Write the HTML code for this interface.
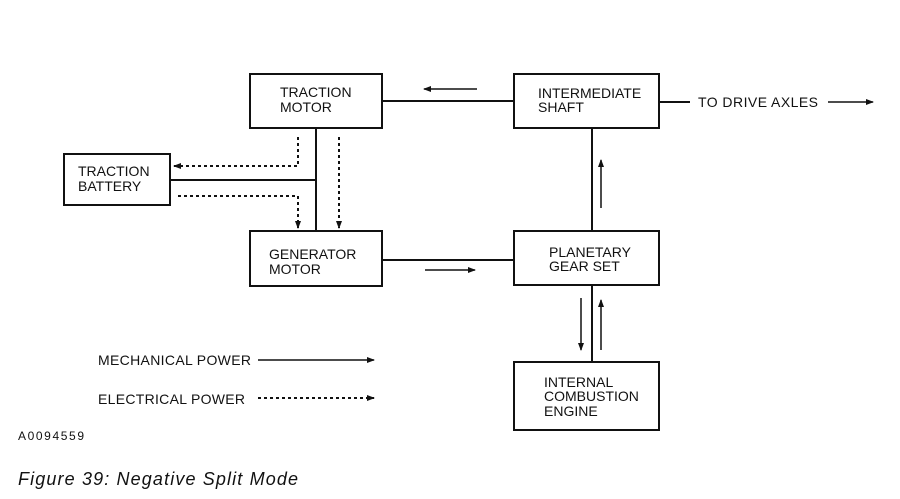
<!DOCTYPE html>
<html><head><meta charset="utf-8"><style>
html,body{margin:0;padding:0;background:#fff;width:900px;height:499px;overflow:hidden}
</style></head><body>
<svg width="900" height="499" viewBox="0 0 900 499" xmlns="http://www.w3.org/2000/svg" font-family="Liberation Sans, sans-serif" font-size="14" fill="#111">
<defs>
<marker id="a" markerWidth="8" markerHeight="6" refX="7" refY="3" orient="auto" markerUnits="userSpaceOnUse"><path d="M0,0 L8,3 L0,6 z" fill="#111"/></marker>
</defs>
<g stroke="#111" stroke-width="2" fill="none">
<rect x="250" y="74" width="132" height="54"/>
<rect x="64" y="154" width="106" height="51"/>
<rect x="250" y="231" width="132" height="55"/>
<rect x="514" y="74" width="145" height="54"/>
<rect x="514" y="231" width="145" height="54"/>
<rect x="514" y="362" width="145" height="68"/>
<line x1="316" y1="128" x2="316" y2="231"/>
<line x1="170" y1="180" x2="316" y2="180"/>
<line x1="382" y1="101" x2="514" y2="101"/>
<line x1="382" y1="260" x2="514" y2="260"/>
<line x1="592" y1="128" x2="592" y2="231"/>
<line x1="592" y1="285" x2="592" y2="362"/>
<line x1="659" y1="102" x2="690" y2="102"/>
</g>
<g stroke="#111" stroke-width="1.5" fill="none">
<line x1="477" y1="89" x2="424" y2="89" marker-end="url(#a)"/>
<line x1="425" y1="270" x2="475" y2="270" marker-end="url(#a)"/>
<line x1="601" y1="208" x2="601" y2="160" marker-end="url(#a)"/>
<line x1="581" y1="298" x2="581" y2="350" marker-end="url(#a)"/>
<line x1="601" y1="350" x2="601" y2="300" marker-end="url(#a)"/>
<line x1="828" y1="102" x2="873" y2="102" marker-end="url(#a)"/>
<line x1="258" y1="360" x2="374" y2="360" marker-end="url(#a)"/>
</g>
<g stroke="#111" stroke-width="2" fill="none" stroke-dasharray="3,3">
<polyline points="298,137 298,166 174,166" marker-end="url(#a)"/>
<polyline points="178,196 298,196 298,228" marker-end="url(#a)"/>
<line x1="339" y1="137" x2="339" y2="228" marker-end="url(#a)"/>
<line x1="258" y1="398" x2="374" y2="398" marker-end="url(#a)"/>
</g>
<text x="280" y="97">TRACTION</text><text x="280" y="112">MOTOR</text>
<text x="78" y="176">TRACTION</text><text x="78" y="191">BATTERY</text>
<text x="269" y="259">GENERATOR</text><text x="269" y="274">MOTOR</text>
<text x="538" y="98">INTERMEDIATE</text><text x="538" y="112">SHAFT</text>
<text x="549" y="257">PLANETARY</text><text x="549" y="271">GEAR SET</text>
<text x="544" y="387">INTERNAL</text><text x="544" y="401">COMBUSTION</text><text x="544" y="416">ENGINE</text>
<text x="698" y="107" textLength="120">TO DRIVE AXLES</text>
<text x="98" y="365" textLength="153">MECHANICAL POWER</text>
<text x="98" y="404" textLength="147">ELECTRICAL POWER</text>
<text x="18" y="440" font-size="12" textLength="66">A0094559</text>
<text x="18" y="485" font-size="18" font-style="italic" textLength="280">Figure 39: Negative Split Mode</text>
</svg>
</body></html>
